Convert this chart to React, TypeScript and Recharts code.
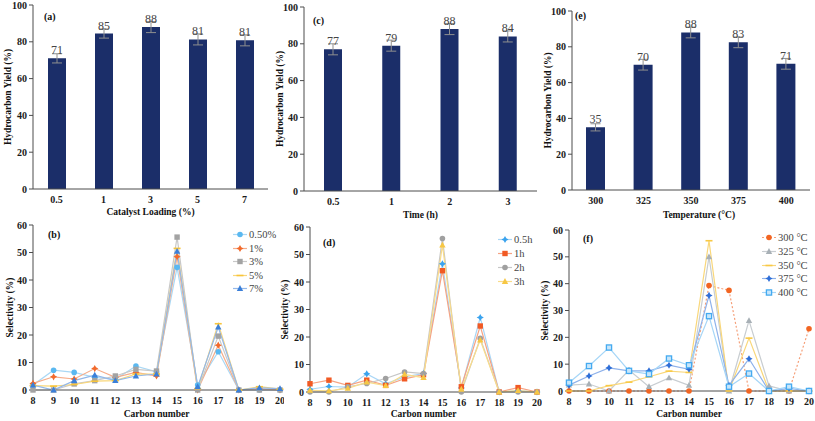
import React from "react";
import {
  BarChart,
  Bar,
  LineChart,
  Line,
  XAxis,
  YAxis,
  ErrorBar,
  LabelList,
  Legend,
} from "recharts";

const FONT = "'Liberation Serif', 'Times New Roman', serif";
const AXIS = "#4d4d4d";
const BORDER = "#8d9aa3";
const BAR = "#1b2e69";

// (a) catalyst loading
const loadingCats = ["0.5", "1", "3", "5", "7"];
const loadingYield = [71, 84.5, 88, 81.3, 80.8];
const loadingErr = [2.5, 2.5, 3, 3, 3];

// (c) reaction time
const timeCats = ["0.5", "1", "2", "3"];
const timeYield = [77, 79, 88, 84];
const timeErr = [3, 3, 3, 3];

// (e) temperature
const tempCats = ["300", "325", "350", "375", "400"];
const tempYield = [35, 70, 88, 82.5, 70.5];
const tempErr = [2, 3, 3, 3, 3];

const yieldTicks = [0, 20, 40, 60, 80, 100];
const selTicks = [0, 10, 20, 30, 40, 50, 60];

const carbonNumbers = [8, 9, 10, 11, 12, 13, 14, 15, 16, 17, 18, 19, 20];

// (b) selectivity vs catalyst loading
const sel050 = [1.8, 7.2, 6.4, 4.6, 3.9, 8.7, 6.6, 44.6, 1.8, 13.9, 0, 0, 0];
const sel1 = [2.4, 4.8, 4.0, 7.8, 4.6, 6.4, 5.1, 48.5, 0, 16.3, 0, 0.4, 0];
const sel3 = [0, 0, 2.2, 3.4, 5.1, 7.5, 6.9, 55.6, 0, 19.6, 0, 0, 0];
const sel5 = [1.6, 1.4, 2.0, 3.2, 3.4, 5.8, 5.8, 51.5, 0.5, 24.1, 0, 1.2, 0.3];
const sel7 = [1.8, 0, 3.4, 5.4, 3.4, 5.1, 5.8, 50.4, 1.2, 22.9, 0, 0.8, 0.5];

// (d) selectivity vs time
const sel05h = [1.0, 2.0, 1.8, 6.6, 3.0, 5.5, 6.7, 46.6, 1.5, 27.1, 0, 0.5, 0];
const sel1h = [3.0, 4.3, 2.4, 4.3, 2.4, 4.8, 6.3, 44.1, 1.9, 24.0, 0, 1.6, 0];
const sel2h = [0, 0, 1.9, 3.1, 4.9, 7.3, 6.7, 55.8, 0, 19.5, 0, 0, 0];
const sel3h = [0.6, 0.4, 1.3, 3.6, 2.3, 6.4, 5.2, 53.4, 1.0, 18.9, 0, 0.5, 0];

// (f) selectivity vs temperature
const sel300 = [0, 0, 0, 0, 0, 0, 0, 39.3, 37.5, 0, 0, 0, 23.2];
const sel325 = [2.2, 2.6, 0, 7.8, 1.6, 4.9, 2.1, 50.0, 0, 26.2, 1.9, 0, 0];
const sel350 = [0, 0, 2.0, 3.3, 5.3, 7.4, 6.9, 56.0, 0, 19.7, 0, 0, 0];
const sel375 = [2.2, 5.6, 8.6, 7.5, 7.5, 9.6, 8.1, 35.6, 2.1, 12.0, 0, 1.0, 0];
const sel400 = [3.1, 9.3, 16.2, 7.5, 6.3, 12.1, 9.6, 27.9, 1.6, 6.5, 0, 1.6, 0];

type Shape = "circle" | "square" | "squareOpen" | "triangle" | "star" | "dash";
type Series = {
  name: string;
  values: number[];
  color: string;
  line: string;
  shape: Shape;
  dash?: string;
};

const loadingSeries: Series[] = [
  { name: "0.50%", values: sel050, color: "#5ab8f0", line: "#a9d8f5", shape: "circle" },
  { name: "1%", values: sel1, color: "#f26a2c", line: "#f6ad8a", shape: "star" },
  { name: "3%", values: sel3, color: "#a3a3a3", line: "#c8c8c8", shape: "square" },
  { name: "5%", values: sel5, color: "#f8c53a", line: "#f9d77a", shape: "dash" },
  { name: "7%", values: sel7, color: "#3b7fd8", line: "#93b8ea", shape: "triangle" },
];

const timeSeries: Series[] = [
  { name: "0.5h", values: sel05h, color: "#3aa3ee", line: "#a9d6f6", shape: "star" },
  { name: "1h", values: sel1h, color: "#f15a24", line: "#f6a383", shape: "square" },
  { name: "2h", values: sel2h, color: "#a0a0a0", line: "#c6c6c6", shape: "circle" },
  { name: "3h", values: sel3h, color: "#f7c744", line: "#f9dc8a", shape: "triangle" },
];

const tempSeries: Series[] = [
  { name: "300 °C", values: sel300, color: "#f26522", line: "#f5a07a", shape: "circle", dash: "2 2" },
  { name: "325 °C", values: sel325, color: "#a8b0b6", line: "#c8cdd1", shape: "triangle" },
  { name: "350 °C", values: sel350, color: "#f8c945", line: "#f9d77a", shape: "dash" },
  { name: "375 °C", values: sel375, color: "#2f6fd8", line: "#8fb2ea", shape: "star" },
  { name: "400 °C", values: sel400, color: "#45aaf0", line: "#a6d6f7", shape: "squareOpen" },
];

const tickStyle = { fontSize: 10, fontWeight: 700, fill: "#1a1a1a", fontFamily: FONT };
const titleStyle = { fontSize: 9.5, fontWeight: 700, fill: "#111", fontFamily: FONT };

function Marker({ shape, cx, cy, color }: { shape: Shape; cx: number; cy: number; color: string }) {
  if (cx == null || cy == null) return <g />;
  switch (shape) {
    case "circle":
      return <circle cx={cx} cy={cy} r={2.8} fill={color} />;
    case "square":
      return <rect x={cx - 2.7} y={cy - 2.7} width={5.4} height={5.4} fill={color} />;
    case "squareOpen":
      return (
        <rect x={cx - 2.6} y={cy - 2.6} width={5.2} height={5.2} fill="#c7e6fb" stroke={color} strokeWidth={1.3} />
      );
    case "triangle":
      return <path d={`M${cx},${cy - 3.4}L${cx + 3.2},${cy + 2.4}L${cx - 3.2},${cy + 2.4}Z`} fill={color} />;
    case "star":
      return (
        <path
          d={`M${cx},${cy - 3.6}L${cx + 1.3},${cy - 1.3}L${cx + 3.6},${cy}L${cx + 1.3},${cy + 1.3}L${cx},${cy + 3.6}L${cx - 1.3},${cy + 1.3}L${cx - 3.6},${cy}L${cx - 1.3},${cy - 1.3}Z`}
          fill={color}
        />
      );
    case "dash":
      return <line x1={cx - 3.5} y1={cy} x2={cx + 3.5} y2={cy} stroke={color} strokeWidth={1.6} />;
  }
  return <g />;
}

// y-axis title plus the panel tag, placed from the y axis box
const yTitle = (text: string, x: number, tag: string, tagDx: number, tagDy: number) => (props: any) => {
  const vb = props.viewBox || {};
  const cy = vb.y + vb.height / 2;
  return (
    <g>
      <text x={x} y={cy} transform={`rotate(-90 ${x} ${cy})`} textAnchor="middle" dominantBaseline="central" style={titleStyle}>
        {text}
      </text>
      <text x={vb.x + vb.width + tagDx} y={vb.y + tagDy} style={{ ...titleStyle, fontSize: 10 }}>
        {tag}
      </text>
    </g>
  );
};

const xTitle = (text: string, y: number, dx = 0) => (props: any) => {
  const vb = props.viewBox || {};
  return (
    <text x={vb.x + vb.width / 2 + dx} y={y} textAnchor="middle" style={titleStyle}>
      {text}
    </text>
  );
};

type BarGeo = {
  left: number;
  top: number;
  width: number;
  height: number;
  plotTop: number;
  plotBottom: number;
  right: number;
  yw: number;
  yTitleX: number;
  xTitleY: number;
  xTitleDx?: number;
  barSize: number;
  tagDx: number;
  tagDy: number;
};

function BarPanel({
  cats,
  values,
  errs,
  tag,
  xLabel,
  geo,
}: {
  cats: string[];
  values: number[];
  errs: number[];
  tag: string;
  xLabel: string;
  geo: BarGeo;
}) {
  const data = cats.map((c, i) => ({ cat: c, v: values[i], e: errs[i] }));
  return (
    <div style={{ position: "absolute", left: geo.left, top: geo.top }}>
      <BarChart
        width={geo.width}
        height={geo.height}
        data={data}
        margin={{ top: geo.plotTop, right: geo.right, left: 0, bottom: 0 }}
        barSize={geo.barSize}
      >
        <XAxis
          dataKey="cat"
          height={geo.height - geo.plotBottom}
          tickLine={false}
          tickSize={5}
          tick={tickStyle}
          axisLine={{ stroke: AXIS }}
          label={xTitle(xLabel, geo.xTitleY, geo.xTitleDx)}
        />
        <XAxis xAxisId="top" orientation="top" dataKey="cat" height={0} tick={false} tickLine={false} axisLine={{ stroke: BORDER }} />
        <YAxis
          domain={[0, 100]}
          ticks={yieldTicks}
          width={geo.yw}
          tickSize={4}
          tickMargin={2}
          tick={tickStyle}
          tickLine={{ stroke: AXIS }}
          axisLine={{ stroke: AXIS }}
          label={yTitle("Hydrocarbon Yield (%)", geo.yTitleX, tag, geo.tagDx, geo.tagDy)}
        />
        <YAxis yAxisId="r" orientation="right" width={0} tick={false} tickLine={false} axisLine={{ stroke: BORDER }} />
        <Bar dataKey="v" fill={BAR} isAnimationActive={false}>
          <ErrorBar dataKey="e" width={5} stroke="#8f8f8f" strokeWidth={1} />
          <LabelList
            dataKey="v"
            position="top"
            offset={4}
            formatter={(v: any) => Math.round(Number(v))}
            style={{ fontSize: 12, fill: "#444", fontFamily: FONT }}
          />
        </Bar>
      </BarChart>
    </div>
  );
}

type LineGeo = {
  left: number;
  top: number;
  width: number;
  height: number;
  plotTop: number;
  plotBottom: number;
  right: number;
  yw: number;
  yTitleX: number;
  xTitleY: number;
  tagDx: number;
  tagDy: number;
  legendLeft: number;
  legendTop: number;
  legendStep: number;
};

function LegendBox({ series, step }: { series: Series[]; step: number }) {
  return (
    <div style={{ fontFamily: FONT, fontSize: 10.5, color: "#444" }}>
      {series.map((s) => (
        <div key={s.name} style={{ display: "flex", alignItems: "center", height: step, whiteSpace: "nowrap" }}>
          <svg width={14} height={9} style={{ marginRight: 2 }}>
            <line x1={0} y1={4.5} x2={14} y2={4.5} stroke={s.line} strokeWidth={1.2} strokeDasharray={s.dash} />
            <Marker shape={s.shape} cx={7} cy={4.5} color={s.color} />
          </svg>
          <span>{s.name}</span>
        </div>
      ))}
    </div>
  );
}

function LinePanel({ series, tag, geo }: { series: Series[]; tag: string; geo: LineGeo }) {
  const data = carbonNumbers.map((c, i) => {
    const row: Record<string, number> = { c };
    series.forEach((s, j) => {
      row["s" + j] = s.values[i];
    });
    return row;
  });
  return (
    <div style={{ position: "absolute", left: geo.left, top: geo.top }}>
      <LineChart
        width={geo.width}
        height={geo.height}
        data={data}
        margin={{ top: geo.plotTop, right: geo.right, left: 0, bottom: 0 }}
      >
        <XAxis
          dataKey="c"
          interval={0}
          height={geo.height - geo.plotBottom}
          tickLine={false}
          tickSize={5}
          tick={tickStyle}
          axisLine={{ stroke: AXIS }}
          label={xTitle("Carbon number", geo.xTitleY)}
        />
        <XAxis xAxisId="top" orientation="top" dataKey="c" height={0} tick={false} tickLine={false} axisLine={{ stroke: BORDER }} />
        <YAxis
          domain={[0, 60]}
          ticks={selTicks}
          width={geo.yw}
          tickSize={4}
          tickMargin={2}
          tick={tickStyle}
          tickLine={{ stroke: AXIS }}
          axisLine={{ stroke: AXIS }}
          label={yTitle("Selectivity (%)", geo.yTitleX, tag, geo.tagDx, geo.tagDy)}
        />
        <YAxis yAxisId="r" orientation="right" width={0} tick={false} tickLine={false} axisLine={{ stroke: BORDER }} />
        {series.map((s, j) => (
          <Line
            key={s.name}
            dataKey={"s" + j}
            name={s.name}
            stroke={s.line}
            strokeWidth={1.2}
            strokeDasharray={s.dash}
            activeDot={false}
            isAnimationActive={false}
            dot={(p: any) => (
              <g key={`${s.name}-${p.index}`}>
                <Marker shape={s.shape} cx={p.cx} cy={p.cy} color={s.color} />
              </g>
            )}
          />
        ))}
        <Legend
          layout="vertical"
          verticalAlign="middle"
          align="center"
          wrapperStyle={{ left: geo.legendLeft, top: geo.legendTop }}
          content={() => <LegendBox series={series} step={geo.legendStep} />}
        />
      </LineChart>
    </div>
  );
}

export default function App() {
  return (
    <div
      style={{
        position: "absolute",
        left: 0,
        top: 0,
        width: 815,
        height: 421,
        background: "#fff",
        overflow: "hidden",
      }}
    >
      <BarPanel
        cats={loadingCats}
        values={loadingYield}
        errs={loadingErr}
        tag="(a)"
        xLabel="Catalyst Loading (%)"
        geo={{ left: 0, top: 0, width: 272, height: 220, plotTop: 5, plotBottom: 189, right: 4, yw: 33, yTitleX: 8, xTitleY: 215, barSize: 18, tagDx: 11, tagDy: 15 }}
      />
      <BarPanel
        cats={timeCats}
        values={timeYield}
        errs={timeErr}
        tag="(c)"
        xLabel="Time (h)"
        geo={{ left: 272, top: 0, width: 270, height: 220, plotTop: 7, plotBottom: 191, right: 5, yw: 32, yTitleX: 8, xTitleY: 218, barSize: 18, tagDx: 9, tagDy: 17 }}
      />
      <BarPanel
        cats={tempCats}
        values={tempYield}
        errs={tempErr}
        tag="(e)"
        xLabel="Temperature (°C)"
        geo={{ left: 540, top: 0, width: 275, height: 220, plotTop: 11, plotBottom: 190, right: 5, yw: 32, yTitleX: 8, xTitleY: 218, xTitleDx: 8, barSize: 19, tagDx: 3, tagDy: 8 }}
      />
      <LinePanel
        series={loadingSeries}
        tag="(b)"
        geo={{ left: 0, top: 215, width: 284, height: 206, plotTop: 10, plotBottom: 175, right: 4, yw: 33, yTitleX: 10, xTitleY: 202, tagDx: 15, tagDy: 13, legendLeft: 233, legendTop: 13, legendStep: 13.5 }}
      />
      <LinePanel
        series={timeSeries}
        tag="(d)"
        geo={{ left: 272, top: 215, width: 270, height: 206, plotTop: 12, plotBottom: 177, right: 5, yw: 38, yTitleX: 13, xTitleY: 202, tagDx: 13, tagDy: 19, legendLeft: 226, legendTop: 17, legendStep: 14 }}
      />
      <LinePanel
        series={tempSeries}
        tag="(f)"
        geo={{ left: 540, top: 215, width: 275, height: 206, plotTop: 15, plotBottom: 176, right: 6, yw: 29, yTitleX: 5, xTitleY: 202, tagDx: 14, tagDy: 12, legendLeft: 222, legendTop: 16, legendStep: 13.7 }}
      />
    </div>
  );
}
